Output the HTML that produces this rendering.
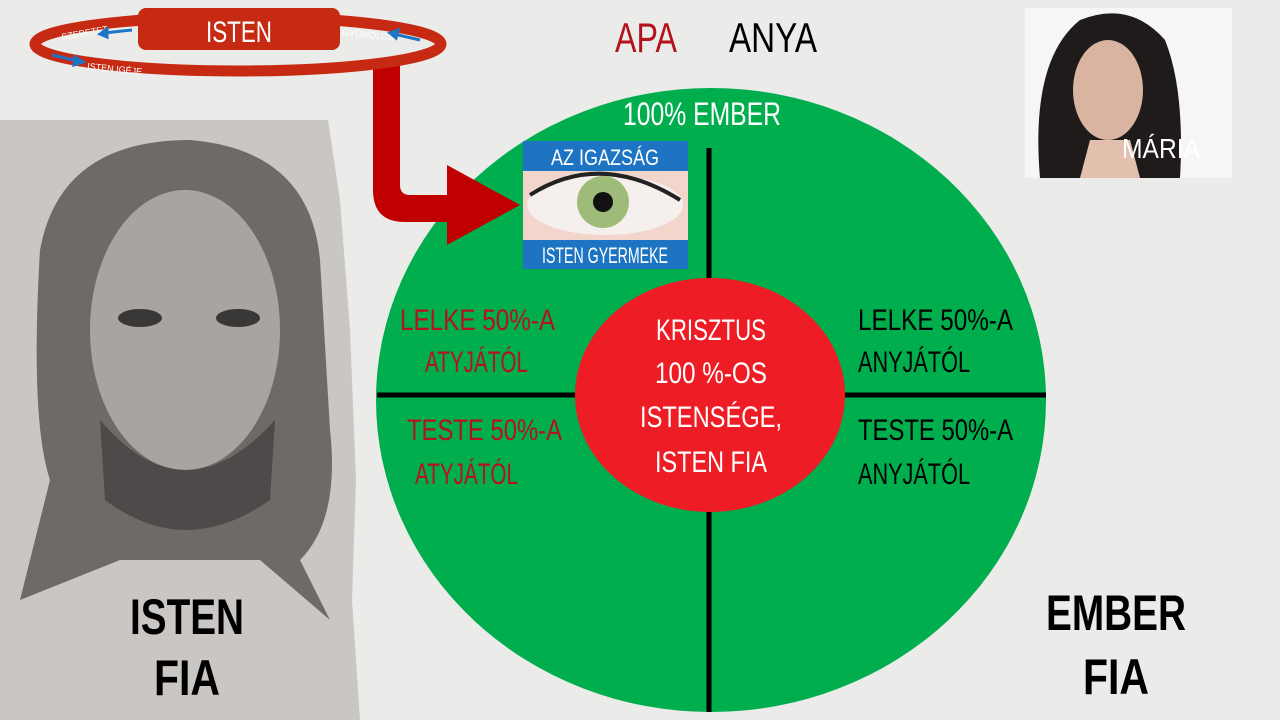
<!DOCTYPE html>
<html><head><meta charset="utf-8"><style>
html,body{margin:0;padding:0;background:#ebebea;}
svg{display:block;font-family:"Liberation Sans Narrow","Liberation Sans",sans-serif;}
</style></head><body>
<svg width="1280" height="720" viewBox="0 0 1280 720" xmlns="http://www.w3.org/2000/svg">
<rect width="1280" height="720" fill="#ebebea"/>
<!-- Jesus area -->
<path d="M0 120 L328 120 L340 200 L350 330 L356 480 L352 600 L360 720 L0 720 Z" fill="#c9c6c4"/>
<path d="M40 250 Q60 140 190 140 Q310 150 320 260 L330 430 Q340 520 300 560 L330 620 L260 560 L120 560 L20 600 L50 480 Q30 420 40 250Z" fill="#6e6a68"/>
<ellipse cx="185" cy="330" rx="95" ry="140" fill="#a9a4a1"/>
<path d="M100 420 Q185 520 275 420 L270 500 Q185 560 105 500Z" fill="#4d4a49"/>
<ellipse cx="140" cy="318" rx="22" ry="9" fill="#3a3837"/>
<ellipse cx="238" cy="318" rx="22" ry="9" fill="#3a3837"/>
<!-- Maria -->
<rect x="1025" y="8" width="207" height="170" fill="#f6f6f6"/>
<path d="M1040 178 Q1030 60 1080 20 Q1130 0 1165 40 Q1185 90 1180 178Z" fill="#1e1b1a"/>
<ellipse cx="1108" cy="90" rx="35" ry="50" fill="#d9b4a0"/>
<path d="M1090 140 L1130 140 L1140 178 L1080 178Z" fill="#e2c0ad"/>
<text x="1122" y="158" font-size="28" fill="#fff" textLength="78" lengthAdjust="spacingAndGlyphs">MÁRIA</text>
<!-- Big ellipse -->
<ellipse cx="711" cy="400" rx="335" ry="312" fill="#00ae4d"/>
<line x1="709" y1="148" x2="709" y2="712" stroke="#000" stroke-width="5"/>
<line x1="377" y1="395" x2="1046" y2="395" stroke="#000" stroke-width="5"/>
<ellipse cx="710" cy="395" rx="135" ry="117" fill="#ee1c24"/>
<text x="702" y="125" font-size="32" fill="#fff" text-anchor="middle" textLength="158" lengthAdjust="spacingAndGlyphs">100% EMBER</text>
<g font-size="30" fill="#ffffff" text-anchor="middle">
<text x="711" y="340" textLength="110" lengthAdjust="spacingAndGlyphs">KRISZTUS</text>
<text x="711" y="383" textLength="112" lengthAdjust="spacingAndGlyphs">100 %-OS</text>
<text x="711" y="427" textLength="142" lengthAdjust="spacingAndGlyphs">ISTENSÉGE,</text>
<text x="711" y="472" textLength="112" lengthAdjust="spacingAndGlyphs">ISTEN FIA</text>
</g>
<g font-size="30" fill="#b5121b">
<text x="400" y="330" textLength="155" lengthAdjust="spacingAndGlyphs">LELKE 50%-A</text>
<text x="425" y="372" textLength="103" lengthAdjust="spacingAndGlyphs">ATYJÁTÓL</text>
<text x="407" y="440" textLength="155" lengthAdjust="spacingAndGlyphs">TESTE 50%-A</text>
<text x="415" y="484" textLength="103" lengthAdjust="spacingAndGlyphs">ATYJÁTÓL</text>
</g>
<g font-size="30" fill="#000">
<text x="858" y="330" textLength="155" lengthAdjust="spacingAndGlyphs">LELKE 50%-A</text>
<text x="858" y="372" textLength="112" lengthAdjust="spacingAndGlyphs">ANYJÁTÓL</text>
<text x="858" y="440" textLength="155" lengthAdjust="spacingAndGlyphs">TESTE 50%-A</text>
<text x="858" y="484" textLength="112" lengthAdjust="spacingAndGlyphs">ANYJÁTÓL</text>
</g>
<!-- eye image -->
<rect x="523" y="141" width="165" height="128" fill="#f2d6cc"/>
<rect x="523" y="141" width="165" height="30" fill="#1d74c3"/>
<rect x="523" y="240" width="165" height="29" fill="#1d74c3"/>
<ellipse cx="605" cy="205" rx="78" ry="30" fill="#f5f0ee"/>
<circle cx="603" cy="202" r="26" fill="#9fbb7a"/>
<circle cx="603" cy="202" r="10" fill="#111"/>
<path d="M530 195 Q600 150 680 200" stroke="#222" stroke-width="4" fill="none"/>
<text x="605" y="165" font-size="22" fill="#fff" text-anchor="middle" textLength="108" lengthAdjust="spacingAndGlyphs">AZ IGAZSÁG</text>
<text x="605" y="263" font-size="22" fill="#fff" text-anchor="middle" textLength="126" lengthAdjust="spacingAndGlyphs">ISTEN GYERMEKE</text>
<!-- red arrow -->
<path d="M373 60 L400 60 L400 185 Q400 195 410 195 L447 195 L447 165 L520 205 L447 245 L447 222 L405 222 Q373 222 373 190 Z" fill="#c00000"/>
<!-- ring -->
<ellipse cx="238" cy="44" rx="203" ry="27" fill="none" stroke="#c62a12" stroke-width="11"/>
<rect x="138" y="8" width="202" height="42" rx="8" fill="#c62a12"/>
<text x="239" y="42" font-size="30" fill="#fff" text-anchor="middle" textLength="66" lengthAdjust="spacingAndGlyphs">ISTEN</text>
<g font-size="9" fill="#fff">
<text x="62" y="40" transform="rotate(-10 62 40)">SZERETET</text>
<text x="342" y="35" transform="rotate(6 342 35)">GYÜMÖLCS</text>
<text x="87" y="69" transform="rotate(6 87 69)">ISTEN IGÉJE</text>
</g>
<g stroke="#1d74c3" stroke-width="3" fill="#1d74c3">
<line x1="104" y1="33" x2="132" y2="30"/><path d="M100 34 L107 29 L107 37Z"/>
<line x1="394" y1="34" x2="420" y2="40"/><path d="M390 33 L398 30 L396 38Z"/>
<line x1="52" y1="55" x2="78" y2="61"/><path d="M83 62 L75 57 L74 65Z"/>
</g>
<text x="615" y="52" font-size="42" fill="#b5121b" textLength="62" lengthAdjust="spacingAndGlyphs">APA</text>
<text x="729" y="52" font-size="42" fill="#000" textLength="88" lengthAdjust="spacingAndGlyphs">ANYA</text>
<g font-size="50" font-weight="bold" fill="#000" text-anchor="middle">
<text x="187" y="634" textLength="114" lengthAdjust="spacingAndGlyphs">ISTEN</text>
<text x="187" y="695" textLength="66" lengthAdjust="spacingAndGlyphs">FIA</text>
<text x="1116" y="630" textLength="140" lengthAdjust="spacingAndGlyphs">EMBER</text>
<text x="1116" y="694" textLength="66" lengthAdjust="spacingAndGlyphs">FIA</text>
</g>
</svg>
</body></html>
